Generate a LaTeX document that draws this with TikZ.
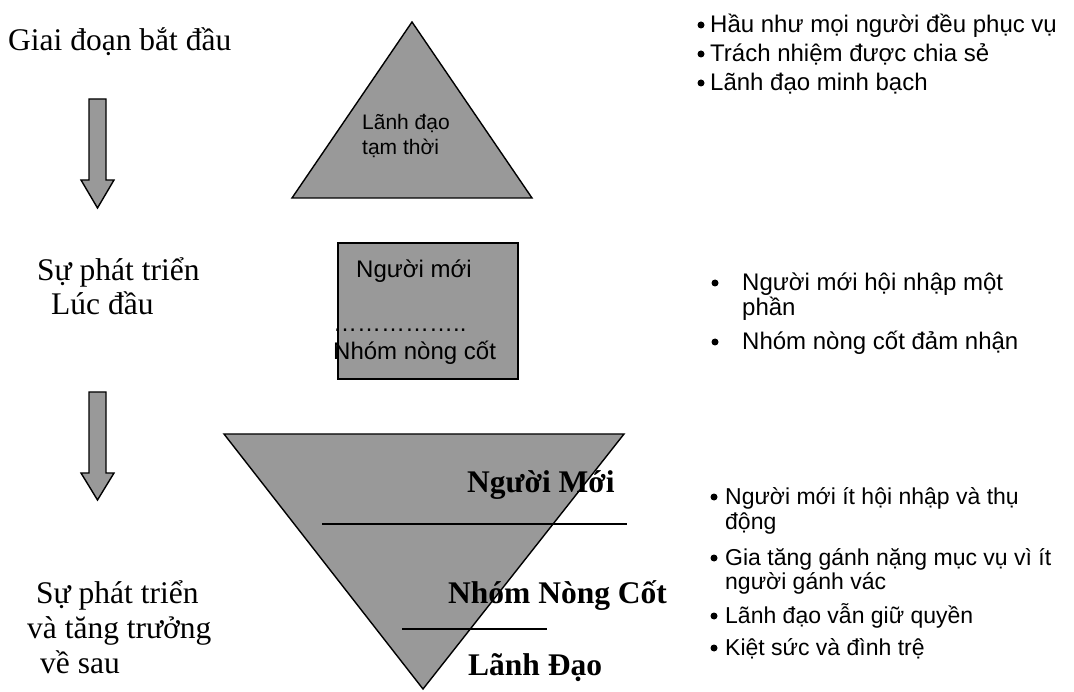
\documentclass[tikz,border=0pt]{standalone}
\usepackage{fontspec}
\setmainfont{Liberation Serif}
\newfontfamily\arial{Liberation Sans}
\definecolor{shade}{RGB}{153,153,153}
\tikzset{
  grayshape/.style={fill=shade, draw=black, line width=1.4pt, line join=miter},
  arrowshape/.style={fill=shade, draw=black, line width=1.4pt},
  serif/.style={anchor=base west, inner sep=0pt, font=\fontsize{31.5}{34}\selectfont},
  boldserif/.style={anchor=base west, inner sep=0pt, font=\fontsize{31.5}{34}\selectfont\bfseries},
  sans/.style={anchor=base west, inner sep=0pt, font=\arial\fontsize{24}{27}\selectfont},
  sanslow/.style={anchor=base west, inner sep=0pt, font=\arial\fontsize{23}{26}\selectfont},
  sanssmall/.style={anchor=base west, inner sep=0pt, font=\arial\fontsize{21}{24}\selectfont},
  dot/.style={circle, fill=black, inner sep=0pt, minimum size=7pt},
  sep/.style={line width=1.4pt}
}
\begin{document}
\begin{tikzpicture}[x=1pt, y=-1pt]
\useasboundingbox (0,0) rectangle (1074,692);
% arrows
\draw[arrowshape] (89,99) -- (106,99) -- (106,180) -- (114,180) -- (97.5,208) -- (81,180) -- (89,180) -- cycle;
\draw[arrowshape] (89,392) -- (106,392) -- (106,473) -- (114,473) -- (97.5,500) -- (81,473) -- (89,473) -- cycle;
% top triangle
\coordinate (tA) at (412,22);
\coordinate (tL) at (292,198);
\coordinate (tR) at (532,198);
\draw[grayshape] (tA) -- (tR) -- (tL) -- cycle;
\node[sanssmall] (t1) at (362,130) {Lãnh đạo};
\node[sanssmall] (t2) at (362,155) {tạm thời};
% box
\node[grayshape, line width=1.6pt, minimum width=180pt, minimum height=136pt, inner sep=0pt, anchor=north west] (box) at (337,242) {};
\node[sans, anchor=base] (b1) at (414,278) {Người mới};
\node[sans] (b2) at (333,332) {……………..};
\node[sans] (b3) at (333,360) {Nhóm nòng cốt};
% inverted triangle
\coordinate (iL) at (224,434);
\coordinate (iR) at (624,434);
\coordinate (iB) at (423,689);
\draw[grayshape] (iL) -- (iR) -- (iB) -- cycle;
\coordinate (s1a) at (322,524);
\coordinate (s1b) at (627,524);
\coordinate (s2a) at (402,629);
\coordinate (s2b) at (547,629);
\draw[sep] (s1a) -- (s1b);
\draw[sep] (s2a) -- (s2b);
\node[boldserif] (n1) at (467,493) {Người Mới};
\node[boldserif] (n2) at (448,603) {Nhóm Nòng Cốt};
\node[boldserif] (n3) at (468,675) {Lãnh Đạo};
% left labels
\node[serif] (l1) at (8,51) {Giai đoạn bắt đầu};
\node[serif] (l2) at (37,281) {Sự phát triển};
\node[serif] (l3) at (51,315) {Lúc đầu};
\node[serif] (l4) at (36,603) {Sự phát triển};
\node[serif] (l5) at (27,638) {và tăng trưởng};
\node[serif] (l6) at (40,673) {về sau};
% right top bullets
\node[dot] (d1) at (701,25) {};
\node[sans] (r1) at (710,33) {Hầu như mọi người đều phục vụ};
\node[dot] (d2) at (701,54) {};
\node[sans] (r2) at (710,62) {Trách nhiệm được chia sẻ};
\node[dot] (d3) at (701,83) {};
\node[sans] (r3) at (710,91) {Lãnh đạo minh bạch};
% right middle bullets
\node[dot] (d4) at (715,283) {};
\node[sans] (r4) at (742,291) {Người mới hội nhập một};
\node[sans] (r5) at (742,316) {phần};
\node[dot] (d5) at (715,342) {};
\node[sans] (r6) at (742,350) {Nhóm nòng cốt đảm nhận};
% right bottom bullets
\node[dot] (d6) at (714,497) {};
\node[sanslow] (r7) at (725,504) {Người mới ít hội nhập và thụ};
\node[sanslow] (r8) at (725,529) {động};
\node[dot] (d7) at (714,558) {};
\node[sanslow] (r9) at (725,565) {Gia tăng gánh nặng mục vụ vì ít};
\node[sanslow] (r10) at (725,589) {người gánh vác};
\node[dot] (d8) at (714,616) {};
\node[sanslow] (r11) at (725,623) {Lãnh đạo vẫn giữ quyền};
\node[dot] (d9) at (714,648) {};
\node[sanslow] (r12) at (725,655) {Kiệt sức và đình trệ};
\end{tikzpicture}
\end{document}
